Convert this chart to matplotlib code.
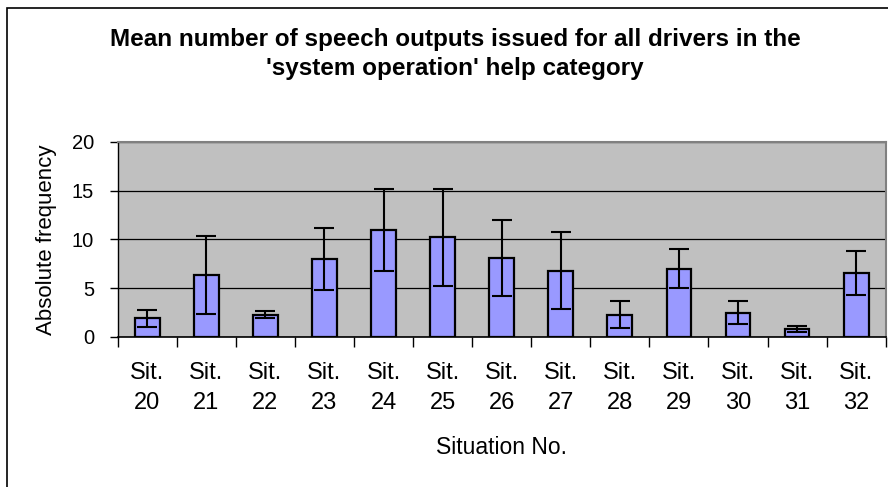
import numpy as np
import matplotlib
matplotlib.use("Agg")
import matplotlib.pyplot as plt
from matplotlib.patches import Rectangle

plt.rcParams["font.family"] = ["Liberation Sans", "DejaVu Sans"]

situations = [20, 21, 22, 23, 24, 25, 26, 27, 28, 29, 30, 31, 32]
means = [1.9, 6.35, 2.3, 8.0, 11.0, 10.2, 8.1, 6.8, 2.3, 7.0, 2.5, 0.8, 6.55]
errors = [0.9, 4.0, 0.4, 3.2, 4.2, 5.0, 3.9, 3.95, 1.35, 2.0, 1.15, 0.3, 2.3]
tick_labels = [f"Sit.\n{s}" for s in situations]
title_lines = ["Mean number of speech outputs issued for all drivers in the",
               "'system operation' help category"]

fig = plt.figure(figsize=(8.88, 4.87), dpi=100)
W, H = 888, 487

# outer chart border (runs off the right and bottom of the image)
fig.patches.append(Rectangle((7 / W, -0.1), 1.2, 1 - 8 / H + 0.1,
                             transform=fig.transFigure, fill=False,
                             edgecolor="black", linewidth=1.2))

ax = fig.add_axes([117.7 / W, 1 - 337 / H, (885.7 - 117.7) / W, (337 - 141.7) / H])
ax.set_facecolor("#C0C0C0")

x = np.arange(len(situations))
ax.bar(x, means, width=0.42, color="#9999FF", edgecolor="black", linewidth=1.6, zorder=3)
ax.errorbar(x, means, yerr=errors, fmt="none", ecolor="black", elinewidth=1.5,
            capsize=7, capthick=1.5, zorder=4)

ax.set_xlim(-0.5, len(situations) - 0.5)
ax.set_ylim(0, 20)
ax.set_yticks([0, 5, 10, 15, 20])
ax.yaxis.grid(True, color="black", linewidth=0.9, zorder=1)
ax.set_axisbelow(True)

ax.set_xticks(x)
ax.set_xticklabels(tick_labels, fontsize=17, linespacing=1.45)
ax.set_xticks(np.arange(len(situations) + 1) - 0.5, minor=True)
ax.tick_params(axis="x", which="major", length=0, pad=18)
ax.tick_params(axis="x", which="minor", length=7, width=1.0, direction="out")
ax.tick_params(axis="y", labelsize=14.5, length=6, width=1.0, pad=11)

for side in ["top", "right"]:
    ax.spines[side].set_color("#808080")
    ax.spines[side].set_linewidth(1.5)
ax.spines["left"].set_color("black")
ax.spines["bottom"].set_color("black")
ax.spines["left"].set_linewidth(1.0)
ax.spines["bottom"].set_linewidth(1.2)

fig.text(501 / W, 1 - 454 / H, "Situation No.", ha="center", va="baseline", fontsize=16.5)
fig.text(46.7 / W, 1 - 239.4 / H, "Absolute frequency", ha="center", va="center",
         rotation=90, fontsize=16)

fig.text(455 / W, 1 - 46 / H, title_lines[0], ha="center", va="baseline",
         fontsize=17.5, fontweight="bold")
fig.text(455 / W, 1 - 75 / H, title_lines[1], ha="center", va="baseline",
         fontsize=17.5, fontweight="bold")

fig.savefig("out.png", dpi=100)
